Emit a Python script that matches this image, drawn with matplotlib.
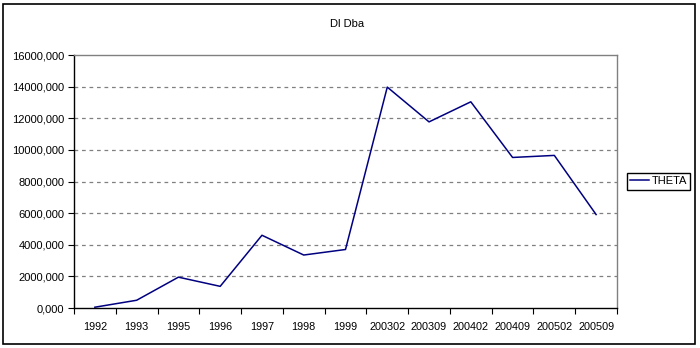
import numpy as np
import matplotlib.pyplot as plt
from matplotlib.patches import Rectangle
from matplotlib.ticker import FuncFormatter

plt.rcParams['font.family'] = ['Liberation Sans', 'DejaVu Sans']

periods = ['1992', '1993', '1995', '1996', '1997', '1998', '1999',
           '200302', '200309', '200402', '200409', '200502', '200509']
theta = [50000, 490000, 1950000, 1370000, 4600000, 3350000, 3700000,
         13970000, 11770000, 13040000, 9520000, 9650000, 5910000]
y_ticks = np.arange(0, 16000001, 2000000)

fig = plt.figure(figsize=(7, 3.48), dpi=100)
W, H = 700, 348
ax = fig.add_axes([74 / W, 1 - 308 / H, (617 - 74) / W, (308 - 55) / H])

x = np.arange(len(periods))
line, = ax.plot(x, theta, color='#000080', lw=1.1, label='THETA')

ax.set_xlim(-0.5, len(periods) - 0.5)
ax.set_ylim(0, 16000000)

# category labels centred, tick marks between categories
ax.set_xticks(x)
ax.set_xticklabels(periods)
ax.set_xticks(np.arange(-0.5, len(periods)), minor=True)
ax.tick_params(axis='x', which='major', length=0, pad=10, labelsize=7.8)
ax.tick_params(axis='x', which='minor', length=4, width=0.8, color='black')

ax.set_yticks(y_ticks)
ax.yaxis.set_major_formatter(FuncFormatter(lambda v, p: f'{v / 1000:.3f}'.replace('.', ',')))
ax.tick_params(axis='y', length=4, width=0.8, color='black', pad=3, labelsize=8)

for v in y_ticks[1:-1]:
    ax.axhline(v, color='#808080', lw=0.9, ls=(0, (3, 3)), zorder=0)

for s in ['top', 'right']:
    ax.spines[s].set_color('#808080')
    ax.spines[s].set_linewidth(1)
for s in ['left', 'bottom']:
    ax.spines[s].set_color('black')
    ax.spines[s].set_linewidth(1)

fig.text(347 / W, 1 - 24 / H, 'Dl Dba', ha='center', va='center', fontsize=8)

leg = fig.legend(handles=[line], loc='upper left',
                 bbox_to_anchor=(627 / W, 1 - 173 / H), borderaxespad=0,
                 fancybox=False, edgecolor='black', framealpha=1, fontsize=8,
                 handlelength=1.7, handletextpad=0.2, borderpad=0.3)
leg.get_frame().set_linewidth(1)

# outer chart border
fig.patches.append(Rectangle((3 / W, 4 / H), 692 / W, 340 / H, transform=fig.transFigure,
                             fill=False, edgecolor='black', lw=1.2))

fig.savefig('out.png', dpi=100)
